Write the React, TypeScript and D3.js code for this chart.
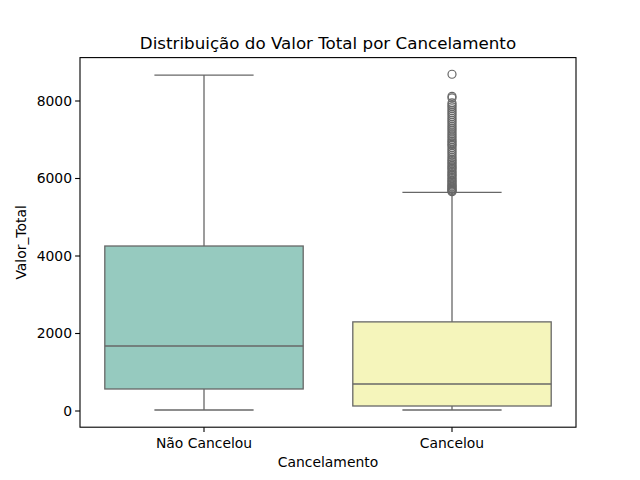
import React from "react";
import * as d3 from "d3";

// categories and box summary stats
const categories = ["Não Cancelou", "Cancelou"];
const boxColors = ["#96cabf", "#f5f5bb"];
const q1 = [568, 129];
const medians = [1677, 697];
const q3 = [4258, 2300];
const whiskerLow = [26, 26];
const whiskerHigh = [8670, 5640];
const outliersCancelou = [
  5660, 5680, 5700, 5720, 5750, 5780, 5800, 5830, 5860, 5900, 5930, 5960,
  6000, 6040, 6080, 6110, 6150, 6190, 6230, 6270, 6300, 6340, 6380, 6420,
  6460, 6500, 6550, 6600, 6650, 6700, 6750, 6800, 6850, 6880, 6920, 6960,
  7000, 7050, 7100, 7150, 7200, 7250, 7300, 7350, 7400, 7450, 7500, 7550,
  7600, 7650, 7700, 7750, 7800, 7850, 7900, 7950, 8080, 8120, 8690,
];
const yTicks = [0, 2000, 4000, 6000, 8000];

const W = 640;
const H = 480;
const margin = { top: 57.6, right: 64, bottom: 52.8, left: 80 };
const font = "DejaVu Sans, sans-serif";
const lineColor = "#676767";

const App = () => {
  const x = d3
    .scaleBand()
    .domain(categories)
    .range([margin.left, W - margin.right]);
  const y = d3
    .scaleLinear()
    .domain([-418, 9120])
    .range([H - margin.bottom, margin.top]);
  const boxW = x.bandwidth() * 0.8;

  return (
    <svg width={W} height={H} style={{ display: "block", margin: -8 }}>
      <rect width={W} height={H} fill="#fff" />
      {categories.map((c, i) => {
        const cx = x(c)! + x.bandwidth() / 2;
        const outs = i === 1 ? outliersCancelou : [];
        return (
          <g key={c}>
            {/* whiskers */}
            <line x1={cx} x2={cx} y1={y(whiskerLow[i])} y2={y(q1[i])} stroke={lineColor} strokeWidth={1.3} />
            <line x1={cx} x2={cx} y1={y(q3[i])} y2={y(whiskerHigh[i])} stroke={lineColor} strokeWidth={1.3} />
            <line x1={cx - boxW / 4} x2={cx + boxW / 4} y1={y(whiskerLow[i])} y2={y(whiskerLow[i])} stroke={lineColor} strokeWidth={1.3} />
            <line x1={cx - boxW / 4} x2={cx + boxW / 4} y1={y(whiskerHigh[i])} y2={y(whiskerHigh[i])} stroke={lineColor} strokeWidth={1.3} />
            <rect
              x={cx - boxW / 2}
              width={boxW}
              y={y(q3[i])}
              height={y(q1[i]) - y(q3[i])}
              fill={boxColors[i]}
              stroke={lineColor}
              strokeWidth={1.3}
            />
            <line x1={cx - boxW / 2} x2={cx + boxW / 2} y1={y(medians[i])} y2={y(medians[i])} stroke={lineColor} strokeWidth={1.3} />
            {outs.map((v, j) => (
              <circle key={j} cx={cx} cy={y(v)} r={4} fill="none" stroke={lineColor} strokeWidth={1.2} />
            ))}
          </g>
        );
      })}
      {/* spines */}
      <rect
        x={margin.left}
        y={margin.top}
        width={W - margin.left - margin.right}
        height={H - margin.top - margin.bottom}
        fill="none"
        stroke="#000"
        strokeWidth={1.1}
      />
      {/* y axis */}
      {yTicks.map((t) => (
        <g key={t}>
          <line x1={margin.left - 4.9} x2={margin.left} y1={y(t)} y2={y(t)} stroke="#000" strokeWidth={1.1} />
          <text x={margin.left - 8} y={y(t)} dy="0.35em" textAnchor="end" fontSize={13.9} fontFamily={font}>
            {t}
          </text>
        </g>
      ))}
      {/* x axis */}
      {categories.map((c) => {
        const cx = x(c)! + x.bandwidth() / 2;
        return (
          <g key={c}>
            <line x1={cx} x2={cx} y1={H - margin.bottom} y2={H - margin.bottom + 4.9} stroke="#000" strokeWidth={1.1} />
            <text x={cx} y={H - margin.bottom + 21} textAnchor="middle" fontSize={13.9} fontFamily={font}>
              {c}
            </text>
          </g>
        );
      })}
      <text x={(margin.left + W - margin.right) / 2} y={467} textAnchor="middle" fontSize={13.9} fontFamily={font}>
        Cancelamento
      </text>
      <text
        transform={`translate(26,${(margin.top + H - margin.bottom) / 2}) rotate(-90)`}
        textAnchor="middle"
        fontSize={13.9}
        fontFamily={font}
      >
        Valor_Total
      </text>
      <text x={(margin.left + W - margin.right) / 2} y={49} textAnchor="middle" fontSize={16.7} fontFamily={font}>
        Distribuição do Valor Total por Cancelamento
      </text>
    </svg>
  );
};

export default App;
